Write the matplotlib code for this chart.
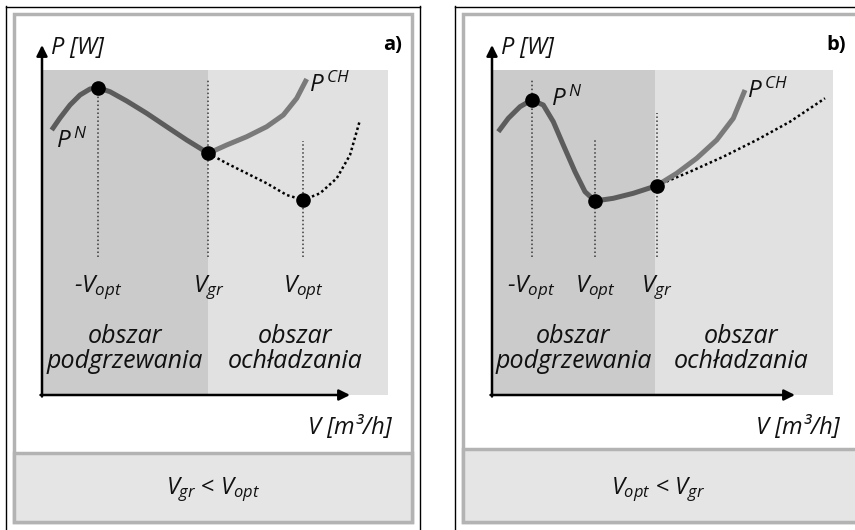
import numpy as np
import matplotlib
matplotlib.use("Agg")
import matplotlib.pyplot as plt
from matplotlib.patches import Rectangle

plt.rcParams['font.family'] = ['Open Sans', 'DejaVu Sans']
plt.rcParams['mathtext.fontset'] = 'custom'
plt.rcParams['mathtext.it'] = 'Open Sans:italic'
plt.rcParams['mathtext.rm'] = 'Open Sans'
plt.rcParams['mathtext.default'] = 'it'

# ---- data (schematic units) ----
# panel a) V_gr < V_opt
a_pn_v = [0.97, 1.8, 2.8, 3.8, 4.8, 5.63, 6.8, 8.47, 10.47, 12.47, 14.47, 16.63]
a_pn_p = [26.5, 27.7, 29.0, 30.0, 30.6, 30.72, 30.33, 29.4, 28.17, 26.83, 25.5, 24.17]
a_pch_v = [16.63, 18.47, 20.47, 22.47, 24.13, 25.47, 26.47]
a_pch_p = [24.17, 25.0, 25.83, 26.83, 28.0, 29.67, 31.6]
a_dot_v = [16.63, 18.47, 20.47, 22.47, 24.47, 26.13, 27.8, 29.47, 30.8, 31.8]
a_dot_p = [24.17, 23.17, 22.17, 21.17, 20.0, 19.5, 20.17, 21.67, 24.0, 27.5]
a_pts_v = [5.63, 16.63, 26.13]
a_pts_p = [30.72, 24.17, 19.5]
a_vline_top = [30.72, 31.6, 25.4]
a_ticks = ['-$V_{opt}$', '$V_{gr}$', '$V_{opt}$']
a_vgr = 16.63

# panel b) V_opt < V_gr
b_pn_v = [0.63, 1.63, 2.8, 3.97, 5.13, 6.13, 7.13, 8.3, 9.3, 10.3, 12.13, 14.13, 16.47]
b_pn_p = [26.33, 27.67, 28.83, 29.5, 29.0, 27.33, 25.0, 22.33, 20.33, 19.4, 19.67, 20.17, 20.93]
b_pch_v = [16.47, 18.47, 20.47, 22.47, 24.13, 25.3]
b_pch_p = [20.93, 22.17, 23.67, 25.5, 27.67, 30.5]
b_dot_v = [16.47, 19.8, 23.13, 26.47, 29.8, 33.3]
b_dot_p = [20.93, 22.33, 23.83, 25.5, 27.33, 29.67]
b_pts_v = [3.97, 10.3, 16.47]
b_pts_p = [29.5, 19.4, 20.93]
b_vline_top = [31.6, 25.5, 28.2]
b_ticks = ['-$V_{opt}$', '$V_{opt}$', '$V_{gr}$']
b_vgr = 16.3

W, H = 855, 530
fig = plt.figure(figsize=(W / 100, H / 100), dpi=100)
fig.patch.set_facecolor('white')

# background axes in pixel coordinates for the frames
bg = fig.add_axes([0, 0, 1, 1])
bg.set_xlim(0, W)
bg.set_ylim(H, 0)
bg.axis('off')

frame_gray = '#b3b3b3'
box_fill = '#e5e5e5'
ink = '#111111'


def draw_frame(x0, x1, sep_y, black_right=True):
    bg.plot([x0 - 8, x0 - 8], [6, H + 5], color='black', lw=1.0)
    bg.plot([x0 - 8, x1 + 8], [6.5, 6.5], color='black', lw=1.0)
    if black_right:
        bg.plot([x1 + 8, x1 + 8], [6, H + 5], color='black', lw=1.0)
    bg.add_patch(Rectangle((x0, 14), x1 - x0, 508, facecolor='white',
                           edgecolor=frame_gray, lw=2.5))
    bg.add_patch(Rectangle((x0, sep_y), x1 - x0, 522 - sep_y, facecolor=box_fill,
                           edgecolor=frame_gray, lw=2.5))


draw_frame(13.5, 412, 453)
draw_frame(463, 885, 449, black_right=False)


def draw_panel(ox, oy, xr, pn_v, pn_p, pch_v, pch_p, dot_v, dot_p,
               pts_v, pts_p, vtop, ticks, vgr, pn_xy, pch_xy):
    ax = fig.add_axes([ox / W, (H - oy) / H, (xr - ox) / W, (oy - 45) / H])
    xmax = (xr - ox) / 10
    ax.set_xlim(0, xmax)
    ax.set_ylim(0, 35)
    ax.axis('off')
    ax.patch.set_alpha(0)

    ax.add_patch(Rectangle((0, 0), vgr, 32.5, facecolor='#cbcbcb', edgecolor='none'))
    ax.add_patch(Rectangle((vgr, 0), xmax - vgr, 32.5, facecolor='#e1e1e1', edgecolor='none'))

    for v, top in zip(pts_v, vtop):
        ax.plot([v, v], [13.8, top], color='#3a3a3a', lw=1.1, ls=(0, (1, 1.6)))

    ax.plot(dot_v, dot_p, color='black', lw=1.8, ls=(0, (1, 1.1)))
    ax.plot(pch_v, pch_p, color='#7a7a7a', lw=3.6, solid_capstyle='butt',
            solid_joinstyle='round')
    ax.plot(pn_v, pn_p, color='#5c5c5c', lw=3.6, solid_capstyle='butt',
            solid_joinstyle='round')
    ax.plot(pts_v, pts_p, 'o', color='black', ms=9.5)

    for v, t in zip(pts_v, ticks):
        ax.text(v, 10.3, t, ha='center', va='baseline', fontsize=17.5,
                style='italic', color=ink)

    ax.text(vgr / 2, 4.6, 'obszar\npodgrzewania', ha='center', va='center',
            fontsize=18, style='italic', linespacing=1.0, color=ink)
    ax.text(vgr + (xmax - vgr) / 2 - 0.3, 4.6, 'obszar\nochładzania', ha='center',
            va='center', fontsize=18, style='italic', linespacing=1.0, color=ink)

    ax.text(pn_xy[0], pn_xy[1], '$P^{\\,N}$', ha='left', va='center', fontsize=17.5,
            color=ink)
    ax.text(pch_xy[0], pch_xy[1], '$P^{\\,CH}$', ha='left', va='center', fontsize=17.5,
            color=ink)

    arrow = dict(arrowstyle='-|>', lw=1.8, color='black', mutation_scale=16,
                 shrinkA=0, shrinkB=0)
    ax.annotate('', xy=(0, 35), xytext=(0, -0.15), arrowprops=arrow,
                annotation_clip=False)
    ax.annotate('', xy=(xmax - 3.8, 0), xytext=(-0.15, 0), arrowprops=arrow,
                annotation_clip=False)
    return ax


draw_panel(42, 395, 388, a_pn_v, a_pn_p, a_pch_v, a_pch_p, a_dot_v, a_dot_p,
           a_pts_v, a_pts_p, a_vline_top, a_ticks, a_vgr, (1.4, 25.4), (26.7, 31.0))
draw_panel(492, 395, 833, b_pn_v, b_pn_p, b_pch_v, b_pch_p, b_dot_v, b_dot_p,
           b_pts_v, b_pts_p, b_vline_top, b_ticks, b_vgr, (5.9, 29.6), (25.5, 30.4))

# panel-level labels
for x in [50, 500]:
    bg.text(x, 48, '$P$ [$W$]', ha='left', va='center', fontsize=17, style='italic',
            color=ink)
bg.text(402, 45, 'a)', ha='right', va='center', fontsize=14.5, fontweight='bold')
bg.text(846, 45, 'b)', ha='right', va='center', fontsize=14.5, fontweight='bold')
bg.text(392, 428, 'V [m³/h]', ha='right', va='center', fontsize=17, style='italic',
        color=ink)
bg.text(840, 428, 'V [m³/h]', ha='right', va='center', fontsize=17, style='italic',
        color=ink)
bg.text(213, 490, '$V_{gr}$ < $V_{opt}$', ha='center', va='center', fontsize=17,
        color=ink)
bg.text(658, 490, '$V_{opt}$ < $V_{gr}$', ha='center', va='center', fontsize=17,
        color=ink)

fig.savefig('out.png', dpi=100, facecolor='white')
